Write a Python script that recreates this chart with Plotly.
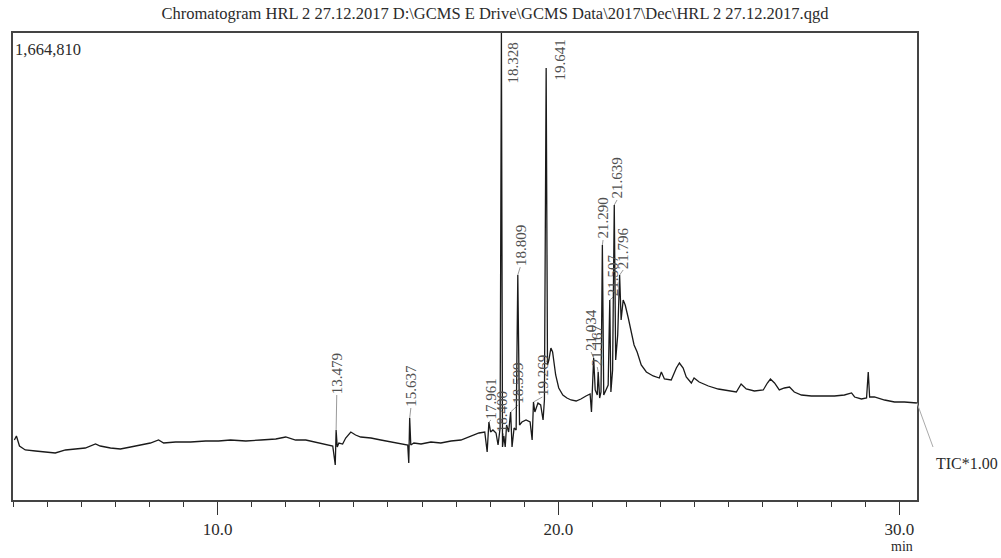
import plotly.graph_objects as go

# ---------------- data ----------------
retention_time = [
    4.04, 4.10, 4.19, 4.36, 4.66, 4.95, 5.24, 5.54, 5.83, 6.12, 6.42, 6.56, 6.86, 7.15, 7.45,
    7.74, 8.03, 8.27, 8.42, 8.77, 9.21, 9.65, 10.03, 10.38, 10.83, 11.27, 11.71, 12.00, 12.29,
    12.59, 12.88, 13.17, 13.38, 13.454, 13.479, 13.512, 13.56, 13.67, 13.76, 13.91, 14.05,
    14.20, 14.50, 14.79, 15.08, 15.38, 15.58, 15.61, 15.637, 15.67, 15.76, 15.97, 16.26, 16.55,
    16.85, 17.14, 17.43, 17.67, 17.84, 17.91, 17.961, 18.01, 18.08, 18.17, 18.23, 18.29, 18.328,
    18.36, 18.400, 18.44, 18.48, 18.54, 18.599, 18.64, 18.70, 18.76, 18.809, 18.86, 18.93, 19.05,
    19.17, 19.23, 19.269, 19.31, 19.40, 19.48, 19.55, 19.59, 19.641, 19.68, 19.72, 19.78, 19.83,
    19.92, 20.01, 20.13, 20.25, 20.37, 20.52, 20.66, 20.81, 20.93, 20.97, 21.034, 21.08, 21.14,
    21.167, 21.21, 21.25, 21.290, 21.33, 21.40, 21.46, 21.507, 21.54, 21.59, 21.639, 21.68,
    21.74, 21.796, 21.84, 21.90, 21.96, 22.05, 22.13, 22.22, 22.31, 22.43, 22.58, 22.78, 22.96,
    23.02, 23.11, 23.31, 23.46, 23.55, 23.66, 23.75, 23.90, 23.98, 24.13, 24.40, 24.69, 24.98,
    25.22, 25.36, 25.51, 25.75, 26.01, 26.13, 26.22, 26.34, 26.48, 26.63, 26.78, 26.92, 27.13,
    27.42, 27.72, 28.10, 28.39, 28.60, 28.69, 28.89, 29.04, 29.09, 29.13, 29.27, 29.57, 29.86,
    30.15, 30.44, 30.52,
]
intensity = [
    213900, 228200, 192500, 178300, 174700, 171100, 167600, 178300, 181800, 185400, 199600,
    192500, 185400, 181800, 188900, 196100, 203200, 213900, 203200, 206800, 206800, 210300,
    210300, 213900, 210300, 213900, 217500, 224600, 213900, 213900, 206800, 199600, 192500,
    124800, 249600, 188900, 203200, 199600, 221000, 242400, 231700, 224600, 221000, 213900,
    206800, 199600, 196100, 131900, 292300, 196100, 203200, 199600, 206800, 203200, 210300,
    213900, 228200, 238900, 242400, 171100, 278100, 242400, 249600, 238900, 196100, 256700,
    1664810, 188900, 228200, 188900, 267400, 242400, 313700, 188900, 256700, 249600, 802100,
    267400, 278100, 285200, 278100, 213900, 349400, 313700, 345800, 338700, 285200, 356500,
    1540100, 481300, 499100, 541900, 527600, 445600, 399300, 374300, 363600, 356500, 352900,
    360100, 370800, 377900, 313700, 506200, 392200, 374300, 456300, 363600, 385000, 909100,
    374300, 392200, 410000, 713000, 385000, 463500, 1051700, 499100, 588200, 802100, 641700,
    713000, 695200, 648800, 606100, 552600, 527600, 481300, 456300, 442100, 434900, 456300,
    431400, 427800, 470600, 488400, 470600, 438500, 417100, 434900, 420700, 406400, 395700,
    388600, 385000, 413500, 395700, 388600, 392200, 417100, 431400, 417100, 392200, 399300,
    402800, 385000, 374300, 370800, 370800, 370800, 374300, 381500, 367200, 360100, 363600,
    456300, 367200, 367200, 356500, 349400, 349400, 345800, 345800,
]
peak_times = [13.479, 15.637, 17.961, 18.328, 18.400, 18.599, 18.809, 19.269, 19.641,
              21.034, 21.167, 21.290, 21.507, 21.639, 21.796]
peak_labels = ["13.479", "15.637", "17.961", "18.328", "18.400", "18.599", "18.809", "19.269",
               "19.641", "21.034", "21.167", "21.290", "21.507", "21.639", "21.796"]
max_intensity = 1664810
x_tick_values = [10, 20, 30]
x_tick_labels = ["10.0", "20.0", "30.0"]
title_text = "Chromatogram HRL 2 27.12.2017 D:\\GCMS E Drive\\GCMS Data\\2017\\Dec\\HRL 2 27.12.2017.qgd"

# ---------------- label placement (layout) ----------------
label_x = [13.498, 15.672, 18.02, 18.67, 18.37, 18.82, 18.88, 19.53, 20.05,
           20.96, 21.14, 21.31, 21.61, 21.72, 21.90]
label_bottom = [374300, 328000, 285200, 1479500, 238900, 338700, 830000, 367200, 1490200,
                527600, 474100, 926900, 723700, 1069500, 820000]

FONT = "Liberation Serif, Times New Roman, serif"
TXT = "#2b2b2b"

fig = go.Figure()

# connectors from label to peak apex
cx, cy = [], []
for t, lx, lb in zip(peak_times, label_x, label_bottom):
    h = intensity[retention_time.index(t)]
    if lb > h:
        cx += [lx, t, None]
        cy += [lb, h, None]
fig.add_trace(go.Scatter(x=cx, y=cy, mode="lines", line=dict(color="#9a9a9a", width=1),
                         hoverinfo="skip", showlegend=False))

fig.add_trace(go.Scatter(x=retention_time, y=intensity, mode="lines",
                         line=dict(color="#1a1a1a", width=1.3), showlegend=False,
                         name="TIC"))

for lx, lb, lab in zip(label_x, label_bottom, peak_labels):
    fig.add_annotation(x=lx, y=lb, xref="x", yref="y", text=lab, showarrow=False,
                       textangle=-90, xanchor="center", yanchor="bottom",
                       font=dict(family=FONT, size=15, color="#505050"), borderpad=0)

# top-left max intensity
fig.add_annotation(x=0.0, y=0.9636, xref="paper", yref="paper", text=f"{max_intensity:,}",
                   showarrow=False, xanchor="left", yanchor="middle",
                   font=dict(family=FONT, size=16.5, color=TXT))

# TIC label and its leader line
fig.add_shape(type="line", xref="paper", yref="y", x0=1.0, y0=intensity[-1], x1=1.0177, y1=188900,
              line=dict(color="#aaaaaa", width=1))
fig.add_annotation(x=1.0188, y=0.0792, xref="paper", yref="paper", text="TIC*1.00",
                   showarrow=False, xanchor="left", yanchor="middle",
                   font=dict(family=FONT, size=16, color=TXT))
# axis unit
fig.add_annotation(x=0.983, y=-0.099, xref="paper", yref="paper", text="min",
                   showarrow=False, xanchor="center", yanchor="middle",
                   font=dict(family=FONT, size=14, color=TXT))

fig.update_layout(
    width=1001, height=558,
    margin=dict(l=13, r=84, t=33, b=58),
    paper_bgcolor="white", plot_bgcolor="white",
    title=dict(text=title_text, x=0.4945, xref="container", xanchor="center",
               y=1 - 13 / 558, yref="container", yanchor="middle",
               font=dict(family=FONT, size=16.5, color=TXT)),
    xaxis=dict(range=[4.0, 30.52], tickvals=x_tick_values, ticktext=x_tick_labels,
               ticks="outside", ticklen=13, tickwidth=1, tickcolor="#333",
               minor=dict(dtick=1, tick0=0, ticks="outside", ticklen=5, tickwidth=1, tickcolor="#333"),
               showline=True, mirror=True, linecolor="#444", linewidth=2,
               showgrid=False, zeroline=False,
               tickfont=dict(family=FONT, size=17, color=TXT)),
    yaxis=dict(range=[0, max_intensity], showticklabels=False, ticks="",
               showline=True, mirror=True, linecolor="#444", linewidth=2,
               showgrid=False, zeroline=False),
)

fig.write_html("out.html", config={"displayModeBar": False},
               post_script="document.body.style.margin='0';")
